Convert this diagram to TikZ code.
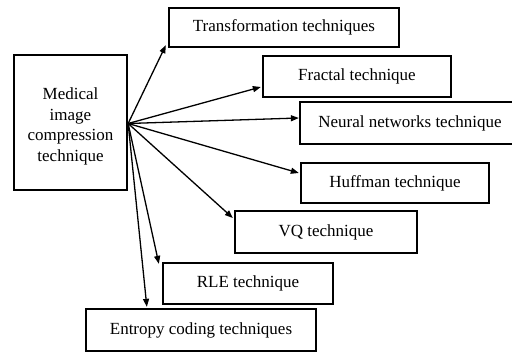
\documentclass[tikz,border=0pt]{standalone}
\usepackage{fontspec}
\setmainfont{Liberation Serif}
\usetikzlibrary{arrows.meta}
\begin{document}
\begin{tikzpicture}[x=1pt,y=-1pt,
  box/.style={draw, line width=2.3pt, inner sep=0pt, font=\fontsize{17}{20.5}\selectfont},
  link/.style={line width=1.3pt, -{Triangle[length=8pt,width=6pt]}}]
\useasboundingbox (0,0) rectangle (512,353);

\node[box, minimum width=113pt, minimum height=135pt,
  label={[font=\fontsize{17}{20.5}\selectfont, align=center, yshift=-4pt]center:Medical\\image\\compression\\technique}]
  (main) at (70.5,122.5) {};

\node[box, minimum width=230pt, minimum height=39pt] (trans) at (284,27.5) {Transformation techniques};
\node[box, minimum width=188pt, minimum height=41pt] (fractal) at (357,76.5) {Fractal technique};
\node[box, minimum width=220pt, minimum height=42pt] (neural) at (410,123) {Neural networks technique};
\node[box, minimum width=188pt, minimum height=40pt] (huff) at (395,183) {Huffman technique};
\node[box, minimum width=182pt, minimum height=42pt] (vq) at (326,232) {VQ technique};
\node[box, minimum width=170pt, minimum height=41pt] (rle) at (248,283.5) {RLE technique};
\node[box, minimum width=230pt, minimum height=42pt] (ent) at (201,330) {Entropy coding techniques};

\coordinate (src) at ([yshift=-1pt]main.east);
\draw[link] (src) -- ([xshift=-2pt,yshift=3pt]trans.south west);
\draw[link] (src) -- ([xshift=-1pt,yshift=-10.5pt]fractal.west);
\draw[link] (src) -- ([yshift=5pt]neural.west);
\draw[link] (src) -- ([xshift=-1pt,yshift=10pt]huff.west);
\draw[link] (src) -- ([xshift=-1pt,yshift=14pt]vq.west);
\draw[link] (src) -- ([xshift=-3pt,yshift=-2pt]rle.north west);
\draw[link] (src) -- ([xshift=62pt,yshift=1pt]ent.north west);
\end{tikzpicture}
\end{document}
